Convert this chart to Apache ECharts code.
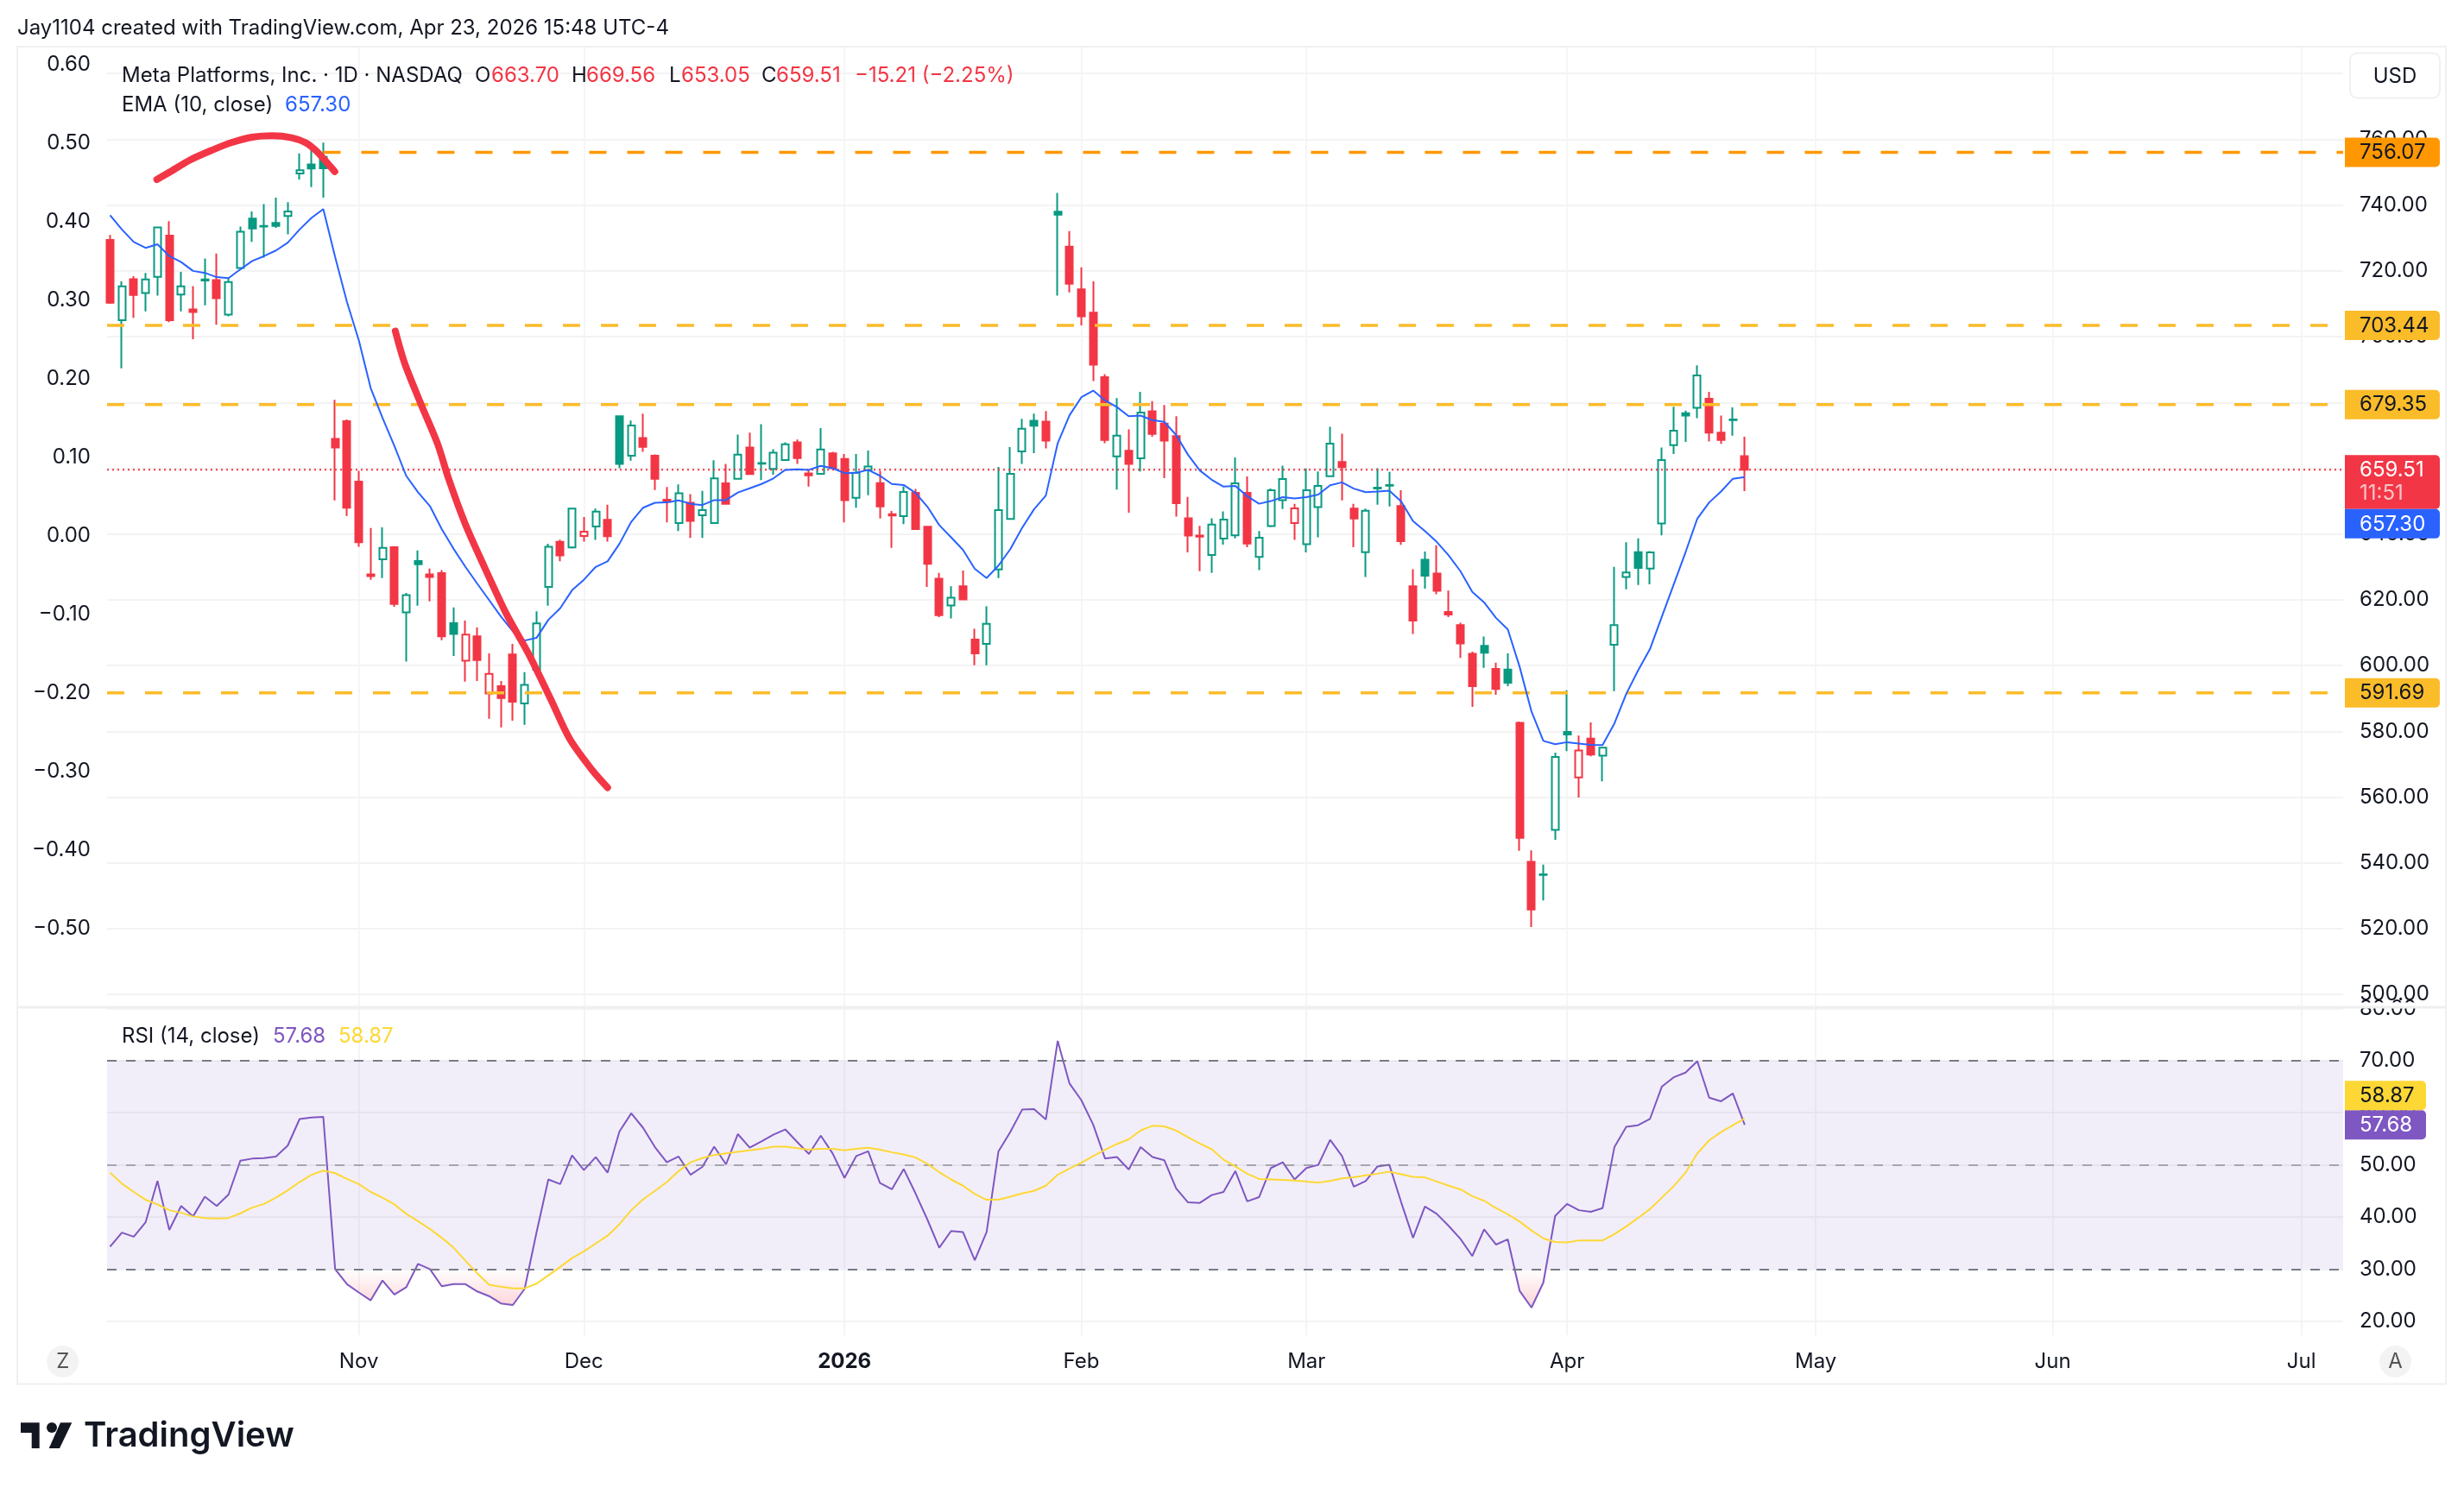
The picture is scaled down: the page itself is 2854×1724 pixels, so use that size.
<!DOCTYPE html>
<html>
<head>
<meta charset="utf-8">
<title>META daily</title>
<script src="https://cdn.jsdelivr.net/npm/echarts@6/dist/echarts.min.js"></script>
<style>
html,body{margin:0;padding:0;background:#fff;}
#main{width:2854px;height:1724px;}
</style>
</head>
<body>
<div id="main"></div>
<script>
var opens=[729.4,705,717.5,713.3,718.2,730.7,712.8,708.3,717.1,717.2,
706.7,720.9,735.9,733.5,734.6,736.7,749.6,752.4,754.7,668.9,
674.3,655.9,627.7,632.3,636,616.2,631.8,627.7,628.1,612.9,
601.5,608.9,591.5,593.7,603.4,588.5,598.7,623.9,637.6,635.9,
639.4,642.3,644.3,675.8,663.8,669.2,663.8,650.4,643.3,649.5,
645.7,643.3,655.4,656.8,666.3,661.4,659.8,662.5,667.9,658.4,
658.3,664.5,662.8,651,659.4,655.5,646,645.4,652.5,642.2,
626.4,618.3,624.1,607.9,606.6,629.2,644.6,665.1,674.4,674.2,
738,727.4,714.4,707.3,687.7,663.6,665.3,663,677.3,673.6,
669.8,644.8,639.5,633.6,638.6,639.6,652.5,633,642.4,650.3,
643.3,636.9,648.2,657.6,661.9,647.7,634.5,653.8,654.7,648.5,
624.1,632.2,628,616.3,612.3,603.6,606,599,598.8,582.6,
540.3,536.3,550,579.8,566,577.8,572.6,606.3,626.9,634.5,
629.5,643.2,667,676.7,678.4,681.1,670.8,674.6,663.7];
var closes=[710.3,715.3,712.7,717.4,733.2,705,715.3,707.5,717.4,711.7,
716.6,731.9,732.9,733.7,733.7,738.1,750.6,751.1,751.2,666.3,
648,637.5,627.2,635.8,618.7,621.4,630.8,626.9,608.9,609.6,
609.4,601.7,597.5,590.1,589,594.1,612.8,636.1,633.5,647.7,
640.7,646.8,639.3,661.3,673,666.5,656.8,649.8,652.4,644,
647.3,656.9,649.2,664.1,658.2,661.6,664.7,667.3,663.1,657.8,
665.7,660,650.3,658.6,660.5,648.4,645.6,652.8,641.5,630.9,
615.3,620.6,620.1,603.7,612.7,647.3,658.3,672,672.9,668.4,
737.1,716.1,706.2,691.5,668.6,669.9,661.3,676.9,670.4,668.4,
649.4,639.5,639.2,642.9,644.4,655.4,637.1,638.9,653.3,656.7,
647.8,653.3,654.6,667.5,660.3,644.7,647.1,654.1,654.9,637.8,
613.7,627.3,622.7,615.5,606.7,593.7,603.9,592.9,594.8,547.6,
525.8,536.5,572.2,579,574.2,572.9,575,612.3,628.3,629.7,
634.4,662.5,671.4,676,688.2,670.8,668.6,674.8,659.51];
var lows=[710,690.4,705.7,707.7,712.5,704.4,707.7,699.2,709.5,703.6,
706.2,720.2,728.8,724,733.1,731.1,747.8,745.5,742.3,650.2,
645.5,636.1,626.1,626.6,617.9,601.2,618.2,619.5,607.7,602.9,
595.1,595.3,583.8,581.2,583.2,582,598.5,618.2,631.7,635.6,
637.7,638.2,637.7,660,662.3,665,653.4,643.5,640.9,638.8,
638.8,643.2,649.1,656.6,658,656.4,658,662.3,661.3,654.4,
658,659.8,643.5,648,651.8,644.7,635.8,643,641.3,623.9,
614.7,614.3,620,600.1,600.1,626.6,644.5,661.3,664.6,666,
712.5,713.5,703.4,686.5,667.6,653.5,646.5,659,669.6,657,
645.3,634.4,628.7,628.2,636.8,638.7,636,629,642.1,647.6,
638.2,634.4,639,657.5,650.2,636,626.9,648.9,648.4,636.7,
609.6,623.4,621.7,614.7,602.3,587.4,599.3,591.1,593.7,543.7,
520.5,528.6,547,574,559.9,572.4,564.8,592.2,623.2,624.5,
624.7,639.6,664.3,668,675.2,668.1,667.4,669.9,653.05];
var highs=[730.9,716.8,718.4,719.4,733.3,735.1,719.7,715.4,723.8,725.3,
718,733.5,738.1,740.3,742.3,740.9,755.7,758.5,759,680.8,
674.8,659.2,641.8,642,636.3,622.1,635,629.5,629,617.7,
613.7,611.6,603.7,595.3,606.6,598,616.5,637,638.3,648,
645.2,647.7,648.9,675.9,674.5,676.6,664.2,654.3,655.1,652.1,
653.1,662.4,661.3,670.2,670.8,673.4,665.8,667.9,668.7,659.7,
672.2,665,664.3,664.3,665.4,659.2,647,654.5,653.7,642.4,
628.2,624.1,628.9,611.2,618,660.4,666.4,675,676.6,677.4,
743.7,732.1,721.1,716.8,688.6,681.3,671.8,683.2,680.4,679.2,
675.8,651.3,642.5,644.8,646.9,663.3,657.5,640.9,653.8,660.8,
649.2,659.9,659,672.6,670.5,649.2,647.7,660,658.9,653.3,
629.3,634.7,636.6,622.8,613,604.2,608.8,600.9,603.7,583,
543.8,539.5,573.5,592.5,578.7,582.7,575.1,630,637.5,638.7,
634.8,666.3,678.7,677.5,691.3,683.2,676,678.5,669.56];
// r = red, g = green, hollow or filled comes from open/close
var tones="rgrggrgrgr"+"gggggggggr"+"rrrgrggrrg"+"rrrrrgggrg"+"rgrggrrrgr"+"ggrgrgggrr"+"grrggrrgrr"+
"rgrrgggggr"+"grrrrgrgrr"+"rrrgggrggg"+"rgggrrgggr"+"rgrrrrgrgr"+"rgggrrgggg"+"gggggrrgr";
var emaValues=[736.9,732.6,728.8,727,728.1,724.5,722.7,720,719.4,718.1,
717.8,720.5,723,724.5,726.2,728.6,732.6,736.1,738.8,724.2,
710.5,698.9,684.4,675.3,666.8,657.7,652.7,648.5,641.5,635.5,
630,624.9,619.9,614.9,610.4,607.6,608.4,613.9,617.4,622.9,
626.1,630,631.7,637,643.7,648,649.5,649.6,650.2,649.2,
648.8,650.3,650.3,652.6,653.9,655.2,656.9,659.5,659.7,659.5,
660.7,660,658.5,658.6,659.5,657.7,655.2,654.9,652.5,648.3,
642.7,639,635.2,629.4,626.6,630.4,635.4,641.9,647.5,651.7,
667.6,676.1,681.6,683.6,680.6,678.6,675.8,676,674.6,674.1,
670.1,664.1,659.3,656.5,654.4,654.6,651.5,649.2,650,651.2,
650.8,651.2,652,654.8,655.7,653.8,652.7,652.9,653.2,649.9,
643.9,640.9,637.6,633.5,628.7,622.4,619.2,614.5,611,599.6,
586,577.1,576.1,576.7,576.3,575.9,575.8,582.4,591.4,598.5,
605,614.8,624.6,634.4,644.7,649.6,652.9,656.8,657.3];
var rsiValues=[34.3,37,36.2,39,46.9,37.5,42.1,40.1,43.9,42.1,
44.3,50.8,51.2,51.3,51.6,53.7,58.8,59.1,59.2,30,
27.1,25.5,24,27.8,25.1,26.5,31,30,26.7,27.1,
27.1,25.7,24.8,23.4,23.1,26.2,37,47.2,46.3,51.8,
49,51.5,48.5,56.4,59.9,57.1,53.4,50.5,51.6,48.1,
49.6,53.5,50.1,55.9,53.3,54.5,55.8,56.8,54.4,52.1,
55.6,52.2,47.5,51.7,52.6,46.5,45.3,49.2,44.5,39.5,
34.1,37.3,37.1,31.7,37.1,52.6,56.3,60.6,60.7,58.7,
73.8,65.6,62.4,57.7,51.2,51.5,49.1,53.4,51.5,50.9,
45.5,42.8,42.7,44.2,44.8,48.8,43,43.8,49.4,50.5,
47.2,49.4,50,54.8,51.7,45.8,46.9,49.7,50,42.8,
36,42,40.6,38.3,35.8,32.5,37.6,34.7,35.7,25.8,
22.6,27.4,40.2,42.5,41.3,41,41.7,53.4,57.3,57.6,
58.8,65,66.8,67.7,69.9,62.9,62.2,63.7,57.68];
var rsiMaValues=[48.5,46.4,44.8,43.3,42.4,41.3,40.8,40.1,39.8,39.7,
39.8,40.7,41.8,42.5,43.7,45.1,46.7,48.1,48.9,48.4,
47.3,46.3,44.8,43.7,42.4,40.6,39.2,37.7,36,34.1,
31.6,29.2,27,26.6,26.3,26.3,27.2,28.8,30.4,32.1,
33.4,34.9,36.4,38.6,41.3,43.4,45,46.7,48.8,50.5,
51.3,51.9,52.2,52.5,52.8,53.1,53.5,53.5,53.2,52.9,
53.1,53.1,52.8,53.1,53.3,52.9,52.4,52,51.4,50.2,
48.6,47.2,46,44.4,43.3,43.3,43.9,44.5,45,46,
48.1,49.3,50.4,51.7,52.9,54,54.9,56.6,57.5,57.4,
56.6,55.3,54.1,53,51,49.7,48.3,47.3,47.2,47.1,
47,46.8,46.6,46.9,47.4,47.6,48,48.3,48.7,48.2,
47.7,47.6,46.8,46,45.3,44,43.1,41.7,40.5,39.1,
37.4,35.9,35.2,35.1,35.5,35.5,35.5,36.7,38.2,39.8,
41.5,43.7,45.9,48.5,52.2,54.7,56.3,57.6,58.87];
// freehand arcs: [bar index, price]
var brushTop=[[3.95,747.8],[5.11,750.2],[6.74,753.7],[8.6,756.7],[10.23,759],[12.09,760.7],[13.71,761.1],[15.34,760.5],[16.5,759],[17.43,756.4],[18.36,752.7],[18.97,750.2]];
var brushDown=[[24.08,701.7],[24.87,691.9],[26.27,679.3],[27.66,667.3],[28.59,656.7],[29.99,643],[31.6,630],[33.5,615.4],[35.3,603.8],[37.2,589.8],[38.8,577.7],[40.7,568.2],[42,562.9]];
var levelPrices=[756.07,703.44,679.35,591.69];
var levelStarts=[18,-0.255,-0.255,-0.255];
var levelColors=['#ff9800','#fbbc2a','#fbbc2a','#fbbc2a'];
var lastPrice=659.51, lastEma=657.30, lastRsi=57.68, lastRsiMa=58.87;
var monthTicks=[21,40,62,82,101,123,144,164,185];
var monthLabels=['Nov','Dec','2026','Feb','Mar','Apr','May','Jun','Jul'];
var priceGrid=[500,520,540,560,580,600,620,640,660,680,700,720,740,760,780];
var priceLabels=[500,520,540,560,580,600,620,640,660,680,700,720,740,760];
var leftLabels=[-0.5,-0.4,-0.3,-0.2,-0.1,0,0.1,0.2,0.3,0.4,0.5,0.6];
var rsiTicks=[20,30,40,50,60,70,80];

var GREEN='#089981',RED='#f23645',INK='#131722',FONT='Inter';
var X_MIN=-0.255,X_MAX=188.52;
var myChart=echarts.init(document.getElementById('main'));

var candleData=[];
for(var i=0;i<opens.length;i++){
    var c=tones[i]=='g'?GREEN:RED;
    // close above open is a hollow candle, close below open is a solid one
    var body=closes[i]>opens[i]?'rgba(0,0,0,0)':c;
    candleData.push({
        value:[i,opens[i],closes[i],lows[i],highs[i]],
        itemStyle:{color:body,color0:body,borderColor:c,borderColor0:c,borderWidth:2}
    });
}
function indexed(arr){
    var out=[];
    for(var i=0;i<arr.length;i++){out.push([i,arr[i]]);}
    return out;
}
// the part of the rsi under 30, with the crossings of the 30 line added
var oversold=[];
for(var k=0;k<rsiValues.length;k++){
    var a=rsiValues[k],b=rsiValues[k+1];
    oversold.push([k,Math.min(a,30)]);
    if(b!==undefined&&(a-30)*(b-30)<0){oversold.push([k+(30-a)/(b-a),30]);}
}

var seriesList=[
    {name:'META',type:'candlestick',xAxisIndex:0,yAxisIndex:1,data:candleData,barWidth:8.5,z:2,silent:true},
    {name:'last',type:'line',xAxisIndex:0,yAxisIndex:1,data:[[X_MIN,lastPrice],[X_MAX,lastPrice]],symbol:'none',z:3,silent:true,
        lineStyle:{color:RED,width:2,type:[2,4]}},
    {name:'EMA',type:'line',xAxisIndex:0,yAxisIndex:1,data:indexed(emaValues),symbol:'none',z:4,silent:true,
        lineStyle:{color:'#2962ff',width:2}},
    {name:'brush1',type:'line',xAxisIndex:0,yAxisIndex:1,data:brushTop,symbol:'none',smooth:0.3,z:5,silent:true,
        lineStyle:{color:RED,width:8,cap:'round',join:'round'}},
    {name:'brush2',type:'line',xAxisIndex:0,yAxisIndex:1,data:brushDown,symbol:'none',smooth:0.3,z:5,silent:true,
        lineStyle:{color:RED,width:8,cap:'round',join:'round'}},
    {name:'RSI',type:'line',xAxisIndex:1,yAxisIndex:2,data:indexed(rsiValues),symbol:'none',z:4,silent:true,
        lineStyle:{color:'#7e57c2',width:2},
        markArea:{silent:true,itemStyle:{color:'rgba(126,87,194,0.1)'},data:[[{yAxis:30},{yAxis:70}]]},
        markLine:{silent:true,symbol:'none',label:{show:false},data:[
            {yAxis:70,lineStyle:{color:'#787b86',width:2,type:[11,11]}},
            {yAxis:50,lineStyle:{color:'rgba(120,123,134,0.6)',width:2,type:[11,11]}},
            {yAxis:30,lineStyle:{color:'#787b86',width:2,type:[11,11]}}
        ]}},
    {name:'oversold',type:'line',xAxisIndex:1,yAxisIndex:2,data:oversold,symbol:'none',z:3,silent:true,
        lineStyle:{width:0,opacity:0},
        areaStyle:{origin:30,opacity:1,color:new echarts.graphic.LinearGradient(0,0,0,1,[
            {offset:0,color:'rgba(242,54,69,0)'},{offset:1,color:'rgba(242,54,69,0.22)'}])}},
    {name:'RSI MA',type:'line',xAxisIndex:1,yAxisIndex:2,data:indexed(rsiMaValues),symbol:'none',z:5,silent:true,
        lineStyle:{color:'#fdd835',width:2}}
];
for(var n=0;n<levelPrices.length;n++){
    seriesList.push({name:'level'+n,type:'line',xAxisIndex:0,yAxisIndex:1,
        data:[[levelStarts[n],levelPrices[n]],[X_MAX,levelPrices[n]]],symbol:'none',z:3,silent:true,
        lineStyle:{color:levelColors[n],width:3.5,type:[20,24]}});
}

var gridLine={show:true,lineStyle:{color:'#f3f3f3',width:2}};
var textStyle={fontFamily:FONT,fontSize:24,color:INK,padding:[3,0,0,0]};
function fixed2(v){return v.toFixed(2);}

var option={
    animation:false,
    backgroundColor:'#fff',
    grid:[
        {left:124,top:54,width:2590,height:1113},
        {left:124,top:1167,width:2590,height:380}
    ],
    xAxis:[
        {type:'value',gridIndex:0,min:X_MIN,max:X_MAX,axisLine:{show:false},
            axisTick:{show:false,customValues:monthTicks},axisLabel:{show:false},splitLine:{show:true,lineStyle:{color:'#f3f3f3',width:1.5}}},
        {type:'value',gridIndex:1,min:X_MIN,max:X_MAX,axisLine:{show:false},
            axisTick:{show:false,customValues:monthTicks},
            axisLabel:{customValues:monthTicks,margin:19,fontFamily:FONT,fontSize:24,color:INK,
                formatter:function(v){
                    var s=monthLabels[monthTicks.indexOf(v)];
                    return s=='2026'?'{b|2026}':s;
                },
                rich:{b:{fontFamily:FONT,fontSize:24,fontWeight:700,color:INK}}},
            splitLine:{show:true,lineStyle:{color:'#f0f0f3',width:1.5}}}
    ],
    yAxis:[
        {type:'value',gridIndex:0,position:'left',min:-0.6,max:0.623,axisLine:{show:false},
            axisTick:{show:false,customValues:leftLabels},splitLine:{show:false},
            axisLabel:Object.assign({customValues:leftLabels,margin:19,
                formatter:function(v){return v.toFixed(2).replace('-','\u2212');}},textStyle)},
        {type:'value',gridIndex:0,position:'right',min:496.1,max:788.2,axisLine:{show:false},
            axisTick:{show:false,customValues:priceGrid},splitLine:gridLine,
            axisLabel:Object.assign({customValues:priceLabels,margin:19,formatter:fixed2},textStyle)},
        {type:'value',gridIndex:1,position:'right',min:17.3,max:80.25,axisLine:{show:false},
            axisTick:{show:false,customValues:rsiTicks},splitLine:gridLine,
            axisLabel:Object.assign({customValues:rsiTicks,margin:19,formatter:fixed2},textStyle)}
    ],
    series:seriesList
};
myChart.setOption(option);

function label(x,y,text,fill,font,align){
    return {type:'text',x:x,y:y+1.5,z:110,silent:true,style:{text:text,fill:fill||INK,
        font:font||('24px '+FONT),verticalAlign:'middle',align:align||'left'}};
}
function tagBox(top,height,right,color,lines){
    var items=[{type:'rect',z:105,silent:true,shape:{x:2716,y:top,width:right-2716,height:height,r:[0,5,5,0]},style:{fill:color}}];
    for(var i=0;i<lines.length;i++){
        items.push(label(2733,top+16+i*27,lines[i][0],lines[i][1]));
    }
    return items;
}
function priceY(p){return myChart.convertToPixel({yAxisIndex:1},p);}
function rsiY(v){return myChart.convertToPixel({yAxisIndex:2},v);}

var gfx=[
    {type:'rect',z:100,silent:true,shape:{x:2716,y:1161.5,width:116,height:5},style:{fill:'#fff'}},
    {type:'rect',z:101,silent:true,shape:{x:20,y:54,width:2813,height:1549.5},style:{fill:'none',stroke:'#f0f0f0',lineWidth:2}},
    {type:'line',z:101,silent:true,shape:{x1:20,y1:1167,x2:2833,y2:1167},style:{stroke:'#efefef',lineWidth:3}},
    label(20,31,'Jay1104 created with TradingView.com, Apr 23, 2026 15:48 UTC-4'),
    label(141,86,'Meta Platforms, Inc. \u00b7 1D \u00b7 NASDAQ'),
    label(550,86,'O'),label(569,86,'663.70',RED),
    label(662,86,'H'),label(679,86,'669.56',RED),
    label(775,86,'L'),label(789,86,'653.05',RED),
    label(882,86,'C'),label(899,86,'659.51',RED),
    label(990,86,'\u221215.21 (\u22122.25%)',RED),
    label(141,120,'EMA (10, close)'),label(330,120,'657.30','#2962ff'),
    label(141,1199.5,'RSI (14, close)'),label(316,1199.5,'57.68','#7e57c2'),label(392,1199.5,'58.87','#fdd835'),
    {type:'rect',z:103,silent:true,shape:{x:2722,y:61.5,width:104,height:52,r:8},style:{fill:'#fff',stroke:'#f0f0f0',lineWidth:2}},
    label(2774,87.5,'USD',INK,'24px '+FONT,'center'),
    {type:'circle',z:103,silent:true,shape:{cx:72.7,cy:1577.5,r:18.5},style:{fill:'#f3f3f3'}},
    label(72.7,1576,'Z','#555','24px '+FONT,'center'),
    {type:'circle',z:103,silent:true,shape:{cx:2774.5,cy:1577.5,r:18.5},style:{fill:'#f3f3f3'}},
    label(2774.5,1576,'A','#555','24px '+FONT,'center'),
    {type:'polygon',z:103,silent:true,shape:{points:[[24,1648.3],[45.7,1648.3],[45.7,1678],[36.7,1678],[36.7,1660],[24,1660]]},style:{fill:INK}},
    {type:'circle',z:103,silent:true,shape:{cx:60,cy:1654,r:6},style:{fill:INK}},
    {type:'polygon',z:103,silent:true,shape:{points:[[70,1648.3],[83.3,1648.3],[69,1678],[56.7,1678]]},style:{fill:INK}},
    label(97,1662,'TradingView',INK,'600 40px '+FONT)
];
levelPrices.forEach(function(p,idx){
    var y=priceY(p);
    gfx=gfx.concat(tagBox(y-17,34,2826,levelColors[idx],[[p.toFixed(2),INK]]));
});
var lastTop=priceY(lastPrice)-17;
gfx=gfx.concat(tagBox(lastTop,62.5,2826,RED,[[lastPrice.toFixed(2),'#fff'],['11:51','rgba(255,255,255,0.7)']]));
gfx=gfx.concat(tagBox(lastTop+62.5,34,2826,'#2962ff',[[lastEma.toFixed(2),'#fff']]));
var rsiTop=rsiY(lastRsi)-17;
gfx=gfx.concat(tagBox(rsiTop,34,2810,'#7e57c2',[[lastRsi.toFixed(2),'#fff']]));
gfx=gfx.concat(tagBox(rsiTop-34,34,2810,'#fdd835',[[lastRsiMa.toFixed(2),INK]]));
myChart.setOption({graphic:{elements:gfx}});
</script>
</body>
</html>
